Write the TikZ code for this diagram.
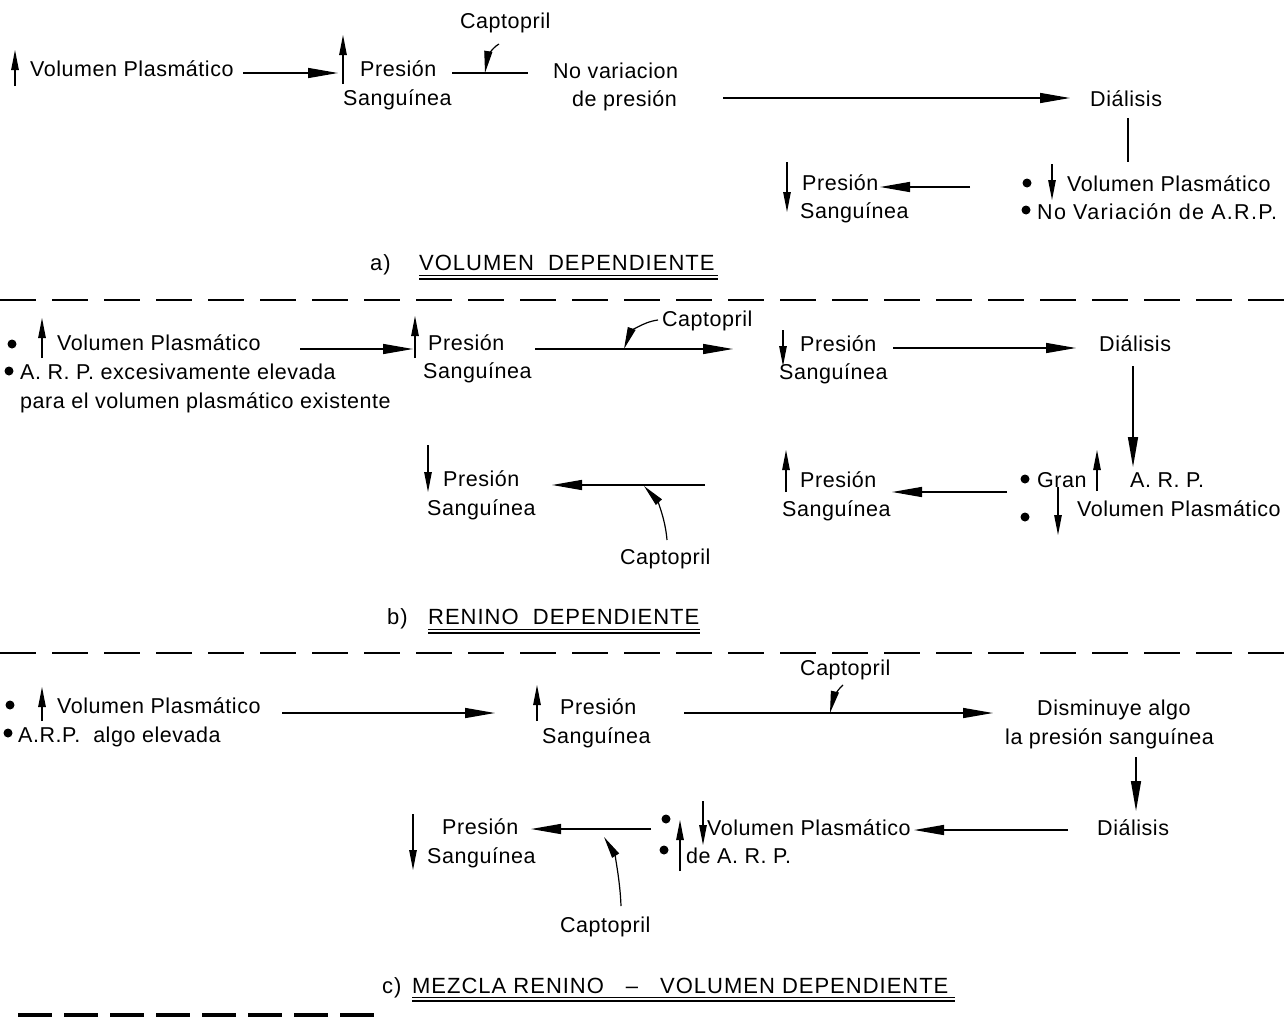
\documentclass[tikz,border=0pt]{standalone}
\usepackage{fontspec}
\setmainfont[LetterSpace=2.5]{Liberation Sans}
\newfontfamily\hdfont[LetterSpace=4.5]{Liberation Sans}
\newfontfamily\widefont[LetterSpace=6]{Liberation Sans}
\usetikzlibrary{arrows.meta}
\begin{document}
\begin{tikzpicture}[x=1pt,y=-1pt,
  txt/.style={anchor=base west, inner sep=0pt, font=\fontsize{21.5}{26}\selectfont},
  hd/.style={anchor=base west, inner sep=0pt, font=\hdfont\fontsize{22}{26}\selectfont},
  arr/.style={-{Triangle[length=30pt,width=10pt]}, line width=1.4pt},
  carr/.style={-{Triangle[length=22pt,width=8pt]}, line width=1.2pt},
  varr/.style={-{Triangle[length=20pt,width=7.5pt]}, line width=1.1pt},
  plain/.style={line width=1.4pt},
  bul/.style={circle, fill=black, inner sep=0pt, minimum size=9pt},
  sep/.style={line width=1.3pt, dash pattern=on 36pt off 16pt},
  ul/.style={line width=1.6pt}]
\useasboundingbox (0,0) rectangle (1287,1017);

% ================= a) =================
\node[txt] (aVol) at (30,76) {Volumen Plasmático};
\coordinate (aVolU1) at (15,86); \coordinate (aVolU2) at (15,50);
\draw[varr] (aVolU1) -- (aVolU2);
\node[txt] (aPre1) at (360,76) {Presión};
\node[txt] (aPre2) at (343,105) {Sanguínea};
\coordinate (aPreU1) at (343,84); \coordinate (aPreU2) at (343,35);
\draw[varr] (aPreU1) -- (aPreU2);
\coordinate (a1s) at (243,73); \coordinate (a1e) at (338,73);
\draw[arr] (a1s) -- (a1e);
\coordinate (a2s) at (452,73); \coordinate (a2e) at (528,73);
\draw[plain] (a2s) -- (a2e);
\node[txt] (aCap) at (460,28) {Captopril};
\coordinate (aCapS) at (499,44); \coordinate (aCapE) at (485,73);
\draw[carr] (aCapS) .. controls (490,49) and (487,60) .. (aCapE);
\node[txt] (aNo1) at (553,78) {No variacion};
\node[txt] (aNo2) at (572,106) {de presión};
\coordinate (a3s) at (723,98); \coordinate (a3e) at (1070,98);
\draw[arr] (a3s) -- (a3e);
\node[txt] (aDia) at (1090,106) {Diálisis};
\coordinate (a4s) at (1128,118); \coordinate (a4e) at (1128,162);
\draw[plain] (a4s) -- (a4e);
\node[bul] (aB1) at (1027,183) {};
\coordinate (aVdU1) at (1052,164); \coordinate (aVdU2) at (1052,200);
\draw[varr] (aVdU1) -- (aVdU2);
\node[txt] (aVd) at (1067,191) {Volumen Plasmático};
\node[bul] (aB2) at (1026,210) {};
\node[txt, font=\widefont\fontsize{21.5}{26}\selectfont] (aNoV) at (1037,219) {No Variación de A.R.P.};
\coordinate (a5s) at (970,187); \coordinate (a5e) at (880,187);
\draw[arr] (a5s) -- (a5e);
\coordinate (aPdU1) at (787,162); \coordinate (aPdU2) at (787,212);
\draw[varr] (aPdU1) -- (aPdU2);
\node[txt] (aPd1) at (802,190) {Presión};
\node[txt] (aPd2) at (800,218) {Sanguínea};

\node[hd] (aH1) at (370,270) {a)};
\node[hd] (aH2) at (419,270) {VOLUMEN\ \ DEPENDIENTE};
\draw[ul] (aH2.south west) ++(0,5) coordinate (aU1) -- ++(299,0);
\draw[ul] (aU1) ++(0,3.5) -- ++(299,0);

\coordinate (sep1a) at (0,300); \coordinate (sep1b) at (1287,300);
\draw[sep] (sep1a) -- (sep1b);

% ================= b) =================
\node[bul] (bB1) at (12,344) {};
\coordinate (bVU1) at (42,358); \coordinate (bVU2) at (42,318);
\draw[varr] (bVU1) -- (bVU2);
\node[txt] (bVol) at (57,350) {Volumen Plasmático};
\node[bul] (bB2) at (9,371) {};
\node[txt] (bArp1) at (20,379) {A. R. P. excesivamente elevada};
\node[txt] (bArp2) at (20,408) {para el volumen plasmático existente};
\coordinate (b1s) at (300,349); \coordinate (b1e) at (413,349);
\draw[arr] (b1s) -- (b1e);
\coordinate (bPU1) at (415,358); \coordinate (bPU2) at (415,316);
\draw[varr] (bPU1) -- (bPU2);
\node[txt] (bP1) at (428,350) {Presión};
\node[txt] (bP2) at (423,378) {Sanguínea};
\coordinate (b2s) at (535,349); \coordinate (b2e) at (733,349);
\draw[arr] (b2s) -- (b2e);
\node[txt] (bCap1) at (662,326) {Captopril};
\coordinate (bC1s) at (658,320); \coordinate (bC1e) at (624,349);
\draw[carr] (bC1s) .. controls (642,322) and (630,333) .. (bC1e);
\coordinate (bPdU1) at (783,330); \coordinate (bPdU2) at (783,366);
\draw[varr] (bPdU1) -- (bPdU2);
\node[txt] (bPd1) at (800,351) {Presión};
\node[txt] (bPd2) at (779,379) {Sanguínea};
\coordinate (b3s) at (893,348); \coordinate (b3e) at (1076,348);
\draw[arr] (b3s) -- (b3e);
\node[txt] (bDia) at (1099,351) {Diálisis};
\coordinate (b4s) at (1133,366); \coordinate (b4e) at (1133,467);
\draw[arr] (b4s) -- (b4e);
\node[bul] (bB3) at (1025,479) {};
\node[txt] (bGran) at (1037,487) {Gran};
\coordinate (bGU1) at (1097,491); \coordinate (bGU2) at (1097,450);
\draw[varr] (bGU1) -- (bGU2);
\node[txt] (bArp3) at (1130,487) {A. R. P.};
\node[bul] (bB4) at (1025,517) {};
\coordinate (bVdU1) at (1058,487); \coordinate (bVdU2) at (1058,535);
\draw[varr] (bVdU1) -- (bVdU2);
\node[txt] (bVd) at (1077,516) {Volumen Plasmático};
\coordinate (b5s) at (1007,492); \coordinate (b5e) at (892,492);
\draw[arr] (b5s) -- (b5e);
\coordinate (bPuU1) at (786,492); \coordinate (bPuU2) at (786,450);
\draw[varr] (bPuU1) -- (bPuU2);
\node[txt] (bPu1) at (800,487) {Presión};
\node[txt] (bPu2) at (782,516) {Sanguínea};
\coordinate (b6s) at (705,485); \coordinate (b6e) at (552,485);
\draw[arr] (b6s) -- (b6e);
\node[txt] (bCap2) at (620,564) {Captopril};
\coordinate (bC2s) at (667,540); \coordinate (bC2e) at (644,486);
\draw[carr] (bC2s) .. controls (665,516) and (656,499) .. (bC2e);
\coordinate (bPfU1) at (428,445); \coordinate (bPfU2) at (428,492);
\draw[varr] (bPfU1) -- (bPfU2);
\node[txt] (bPf1) at (443,486) {Presión};
\node[txt] (bPf2) at (427,515) {Sanguínea};

\node[hd] (bH1) at (387,624) {b)};
\node[hd] (bH2) at (428,624) {RENINO\ \ DEPENDIENTE};
\draw[ul] (bH2.south west) ++(0,5) coordinate (bU1) -- ++(272,0);
\draw[ul] (bU1) ++(0,3.5) -- ++(272,0);

\coordinate (sep2a) at (0,653); \coordinate (sep2b) at (1287,653);
\draw[sep] (sep2a) -- (sep2b);

% ================= c) =================
\node[bul] (cB1) at (10,705) {};
\coordinate (cVU1) at (42,721); \coordinate (cVU2) at (42,687);
\draw[varr] (cVU1) -- (cVU2);
\node[txt] (cVol) at (57,713) {Volumen Plasmático};
\node[bul] (cB2) at (8,733) {};
\node[txt] (cArp) at (18,742) {A.R.P.\ \ algo elevada};
\coordinate (c1s) at (282,713); \coordinate (c1e) at (495,713);
\draw[arr] (c1s) -- (c1e);
\coordinate (cPU1) at (537,721); \coordinate (cPU2) at (537,685);
\draw[varr] (cPU1) -- (cPU2);
\node[txt] (cP1) at (560,714) {Presión};
\node[txt] (cP2) at (542,743) {Sanguínea};
\coordinate (c2s) at (684,713); \coordinate (c2e) at (993,713);
\draw[arr] (c2s) -- (c2e);
\node[txt] (cCap1) at (800,675) {Captopril};
\coordinate (cC1s) at (843,685); \coordinate (cC1e) at (830,713);
\draw[carr] (cC1s) .. controls (836,691) and (833,700) .. (cC1e);
\node[txt] (cDis1) at (1037,715) {Disminuye algo};
\node[txt] (cDis2) at (1005,744) {la presión sanguínea};
\coordinate (c3s) at (1136,757); \coordinate (c3e) at (1136,811);
\draw[arr] (c3s) -- (c3e);
\node[txt] (cDia) at (1097,835) {Diálisis};
\coordinate (c4s) at (1068,830); \coordinate (c4e) at (914,830);
\draw[arr] (c4s) -- (c4e);
\node[bul] (cB3) at (666,819) {};
\coordinate (cVdU1) at (703,801); \coordinate (cVdU2) at (703,845);
\draw[varr] (cVdU1) -- (cVdU2);
\node[txt] (cVd) at (707,835) {Volumen Plasmático};
\node[bul] (cB4) at (664,850) {};
\coordinate (cAU1) at (680,871); \coordinate (cAU2) at (680,820);
\draw[varr] (cAU1) -- (cAU2);
\node[txt] (cArp2) at (686,863) {de A. R. P.};
\coordinate (c5s) at (651,829); \coordinate (c5e) at (531,829);
\draw[arr] (c5s) -- (c5e);
\node[txt] (cCap2) at (560,932) {Captopril};
\coordinate (cC2s) at (621,906); \coordinate (cC2e) at (604,837);
\draw[carr] (cC2s) .. controls (620,878) and (614,853) .. (cC2e);
\coordinate (cPdU1) at (413,814); \coordinate (cPdU2) at (413,870);
\draw[varr] (cPdU1) -- (cPdU2);
\node[txt] (cPd1) at (442,834) {Presión};
\node[txt] (cPd2) at (427,863) {Sanguínea};

\node[hd] (cH1) at (382,993) {c)};
\node[hd] (cH2) at (412,993) {MEZCLA RENINO\hspace{22pt}–\hspace{22pt}VOLUMEN DEPENDIENTE};
\draw[ul] (cH2.south west) ++(0,4) coordinate (cU1) -- ++(543,0);
\draw[ul] (cU1) ++(0,3.5) -- ++(543,0);

\coordinate (sep3a) at (18,1015); \coordinate (sep3b) at (385,1015);
\draw[line width=4pt, dash pattern=on 34pt off 12pt] (sep3a) -- (sep3b);
\end{tikzpicture}
\end{document}
